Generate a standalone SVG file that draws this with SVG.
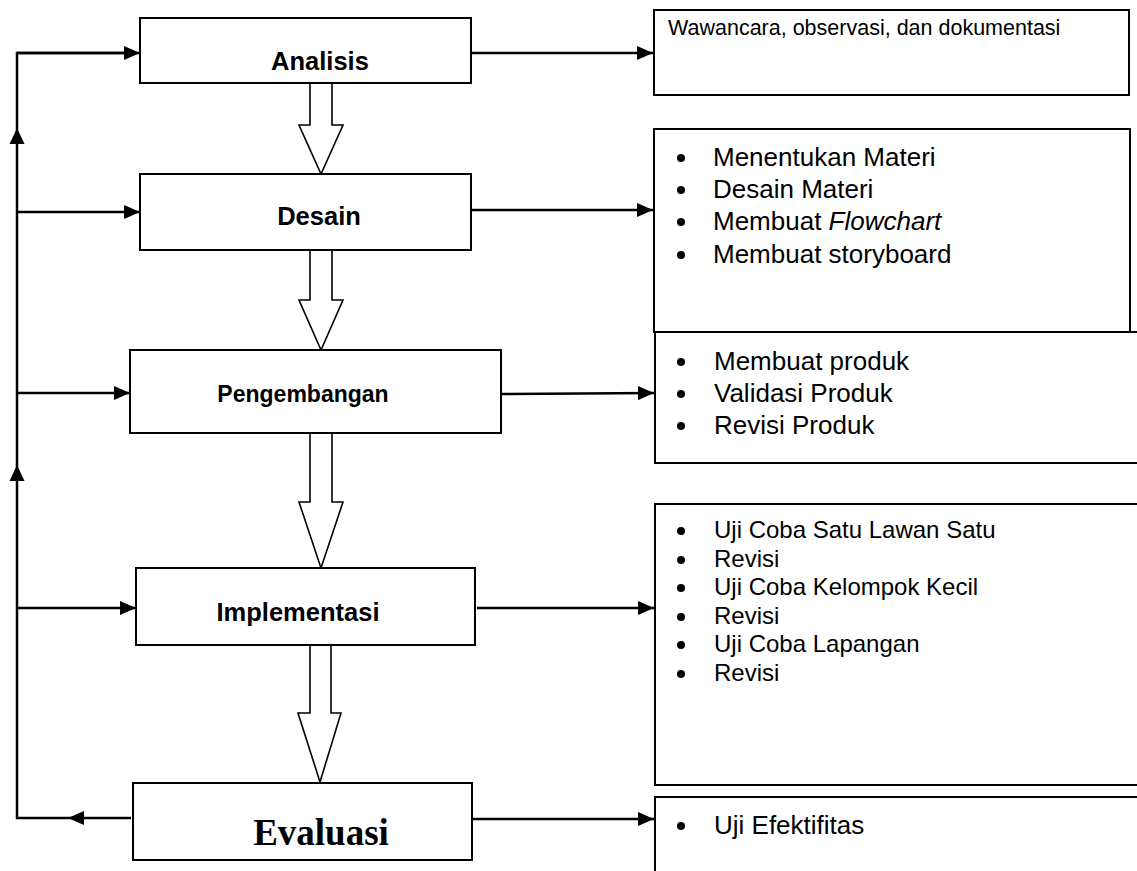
<svg xmlns="http://www.w3.org/2000/svg" width="1137" height="871" viewBox="0 0 1137 871">
<defs>
<marker id="ah" viewBox="0 0 16 14" refX="16" refY="7" markerWidth="16" markerHeight="14" markerUnits="userSpaceOnUse" orient="auto">
<path d="M0,0 L16,7 L0,14 Z" fill="#000"/>
</marker>
</defs>
<style>
.box{fill:#fff;stroke:#000;stroke-width:2}
.open{fill:none;stroke:#000;stroke-width:2}
.con{fill:none;stroke:#000;stroke-width:2.5}
.head{fill:#000}
.block{fill:#fff;stroke:#000;stroke-width:1.6}
.lbl{font-family:"Liberation Sans",Arial,sans-serif;font-weight:bold;font-size:25.5px;fill:#000;text-anchor:middle}
.ev{font-family:"Liberation Serif","Times New Roman",serif;font-weight:bold;font-size:37px;fill:#000;text-anchor:middle}
.li{font-family:"Liberation Sans",Arial,sans-serif;font-size:26px;fill:#000}
.li2{font-family:"Liberation Sans",Arial,sans-serif;font-size:24px;fill:#000}
.li1{font-family:"Liberation Sans",Arial,sans-serif;font-size:21.5px;fill:#000}
</style>
<rect width="1137" height="871" fill="#fff"/>

<g id="connectors">
<path class="con" d="M131,818 H17 V53 H124"/>
<polygon class="head" points="68,818 84,811 84,825"/>
<polygon class="head" points="17,128 9.5,144 24.5,144"/>
<polygon class="head" points="17,465 9.5,481 24.5,481"/>
<line class="con" x1="17" y1="212" x2="140" y2="212" marker-end="url(#ah)"/>
<line class="con" x1="17" y1="393" x2="130" y2="393" marker-end="url(#ah)"/>
<line class="con" x1="17" y1="608" x2="136" y2="608" marker-end="url(#ah)"/>
<line class="con" x1="17" y1="53" x2="140" y2="53" marker-end="url(#ah)"/>
<line class="con" x1="471" y1="53" x2="653" y2="53" marker-end="url(#ah)"/>
<line class="con" x1="471" y1="210" x2="653" y2="210" marker-end="url(#ah)"/>
<line class="con" x1="501" y1="394" x2="654" y2="393" marker-end="url(#ah)"/>
<line class="con" x1="477" y1="608" x2="654" y2="608" marker-end="url(#ah)"/>
<line class="con" x1="472" y1="819" x2="654" y2="819" marker-end="url(#ah)"/>
<path class="block" d="M310,83 V125 H299 L321,174 L343,125 H332 V83"/>
<path class="block" d="M310,250 V300 H299 L321,350 L343,300 H332 V250"/>
<path class="block" d="M310,433 V502 H299 L321,568 L343,502 H332 V433"/>
<path class="block" d="M310,645 V713 H298 L320,782 L341,713 H331 V645"/>
</g>

<g id="analisis">
<rect class="box" x="140" y="18" width="331" height="65"/>
<text class="lbl" x="320" y="70">Analisis</text>
</g>
<g id="desain">
<rect class="box" x="140" y="174" width="331" height="76"/>
<text class="lbl" x="319" y="225">Desain</text>
</g>
<g id="pengembangan">
<rect class="box" x="130" y="350" width="371" height="83"/>
<text class="lbl" x="303" y="402" style="font-size:23px">Pengembangan</text>
</g>
<g id="implementasi">
<rect class="box" x="136" y="568" width="339" height="77"/>
<text class="lbl" x="298" y="621">Implementasi</text>
</g>
<g id="evaluasi">
<rect class="box" x="133" y="783" width="339" height="77"/>
<text class="ev" x="321" y="845">Evaluasi</text>
</g>

<g id="list-analisis">
<rect class="box" x="654" y="10" width="475" height="85"/>
<text class="li1" x="668" y="35">Wawancara, observasi, dan dokumentasi</text>
</g>
<g id="list-desain">
<rect class="box" x="654" y="129" width="476" height="203"/>
<circle cx="681" cy="158" r="4"/><text class="li" x="713" y="166">Menentukan Materi</text>
<circle cx="681" cy="190" r="4"/><text class="li" x="713" y="198">Desain Materi</text>
<circle cx="681" cy="222" r="4"/><text class="li" x="713" y="230">Membuat <tspan font-style="italic">Flowchart</tspan></text>
<circle cx="681" cy="255" r="4"/><text class="li" x="713" y="263">Membuat storyboard</text>
</g>
<g id="list-pengembangan">
<path class="open" d="M1137,332 H655 V463 H1137"/>
<circle cx="681" cy="362" r="4"/><text class="li" x="714" y="370">Membuat produk</text>
<circle cx="681" cy="394" r="4"/><text class="li" x="714" y="402">Validasi Produk</text>
<circle cx="681" cy="426" r="4"/><text class="li" x="714" y="434">Revisi Produk</text>
</g>
<g id="list-implementasi">
<path class="open" d="M1137,504 H655 V785 H1137"/>
<circle cx="681" cy="531" r="4"/><text class="li2" x="714" y="538">Uji Coba Satu Lawan Satu</text>
<circle cx="681" cy="560" r="4"/><text class="li2" x="714" y="567">Revisi</text>
<circle cx="681" cy="588" r="4"/><text class="li2" x="714" y="595">Uji Coba Kelompok Kecil</text>
<circle cx="681" cy="617" r="4"/><text class="li2" x="714" y="624">Revisi</text>
<circle cx="681" cy="645" r="4"/><text class="li2" x="714" y="652">Uji Coba Lapangan</text>
<circle cx="681" cy="674" r="4"/><text class="li2" x="714" y="681">Revisi</text>
</g>
<g id="list-evaluasi">
<path class="open" d="M1137,797 H655 V871"/>
<circle cx="681" cy="826" r="4"/><text class="li" x="714" y="834">Uji Efektifitas</text>
</g>
</svg>
